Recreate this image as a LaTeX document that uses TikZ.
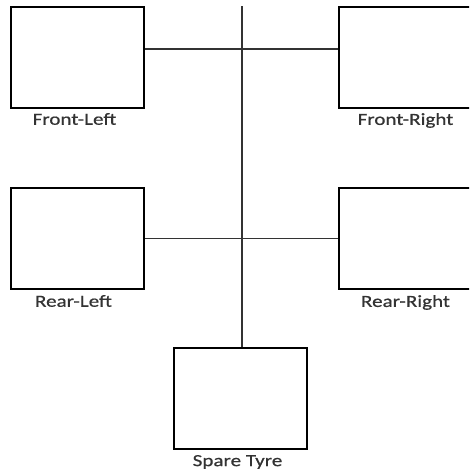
\documentclass[tikz,border=0pt]{standalone}
\usepackage{fontspec}
\setmainfont{Carlito}[FakeStretch=1.24, FakeBold=0.6]
\usetikzlibrary{positioning}
\tikzstyle{wheel} = [rectangle, minimum width=133pt, minimum height=101pt,
  draw=black, line width=1.8pt, fill=white, inner sep=0pt]
\tikzstyle{caption} = [inner sep=0pt, font=\fontsize{17}{19}\selectfont, text=black!80]
\tikzstyle{axle} = [line width=1.8pt, draw=black!80]

\begin{document}
\begin{tikzpicture}[x=1pt, y=1pt]
\clip (0,0) rectangle (469,-474);

%% nodes
\node (frontLeft) [wheel] at (77.5,-57.5) {};
\node (frontRight) [wheel, right of=frontLeft, node distance=328pt] {};
\node (rearLeft) [wheel, below of=frontLeft, node distance=181pt] {};
\node (rearRight) [wheel, below of=frontRight, node distance=181pt] {};
\node (spare) [wheel, below of=rearLeft, xshift=163pt, node distance=160pt] {};
\coordinate (top) at (242,-6);

\node (frontLeftText) [caption, below=4pt of frontLeft, xshift=-3pt] {Front-Left};
\node (frontRightText) [caption, below=4pt of frontRight] {Front-Right};
\node (rearLeftText) [caption, below=5pt of rearLeft, xshift=-4pt] {Rear-Left};
\node (rearRightText) [caption, below=5pt of rearRight] {Rear-Right};
\node (spareText) [caption, below=5pt of spare, xshift=-3pt] {Spare Tyre};

%% paths
\draw [axle] (top) -- (top |- spare.north);
\draw [axle] ([yshift=8.5pt]frontLeft.east) -- ([yshift=8.5pt]frontRight.west);
\draw [axle] (rearLeft.east) -- (rearRight.west);

\end{tikzpicture}
\end{document}
